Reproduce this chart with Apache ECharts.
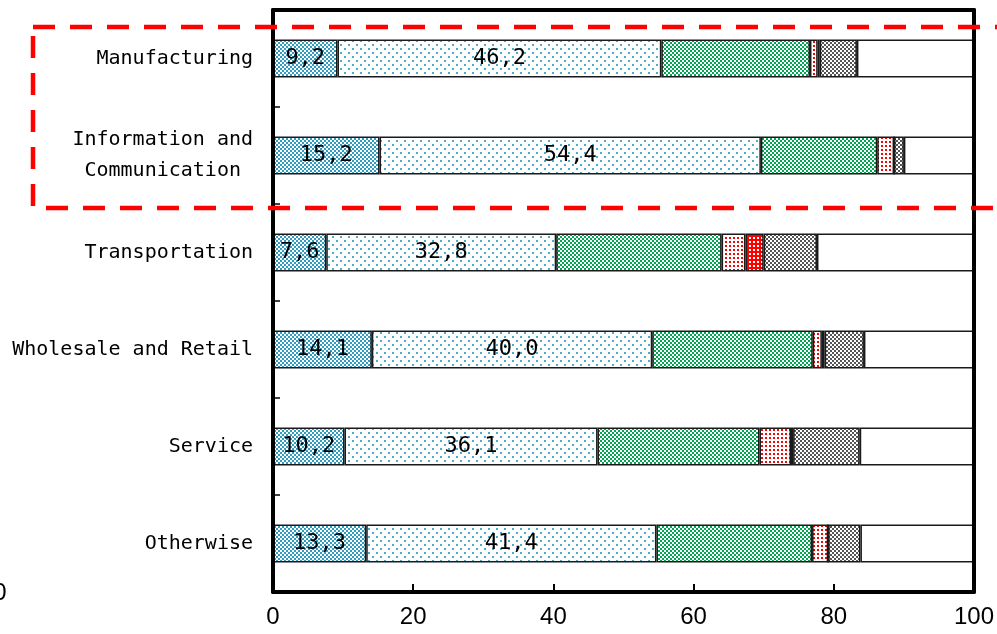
<!DOCTYPE html>
<html>
<head>
<meta charset="utf-8">
<script src="https://cdn.jsdelivr.net/npm/echarts@6/dist/echarts.min.js"></script>
<style>
  html, body { margin: 0; padding: 0; background: #fff; }
  #chart { width: 997px; height: 634px; }
</style>
</head>
<body>
<div id="chart"></div>
<script>
// Industry categories (top to bottom)
var categories = ['Manufacturing', 'Information and\nCommunication ', 'Transportation', 'Wholesale and Retail', 'Service', 'Otherwise'];

// Shares (%) per segment, left to right
var shareA = [9.2, 15.2, 7.6, 14.1, 10.2, 13.3];
var shareB = [46.2, 54.4, 32.8, 40.0, 36.1, 41.4];
var shareC = [21.2, 16.6, 23.6, 22.9, 23.1, 22.2];
var shareD = [1.1, 2.4, 3.4, 1.3, 4.5, 2.3];
var shareE = [0.3, 0, 2.6, 0.4, 0.3, 0];
var shareF = [5.3, 1.4, 7.6, 5.6, 9.5, 4.6];
var shareG = [16.7, 10.0, 22.4, 15.7, 16.3, 16.2];

var xTicks = [0, 20, 40, 60, 80, 100];

// Small tiled fill patterns
function tile(size, bg, fg, squares) {
  var c = document.createElement('canvas');
  c.width = size; c.height = size;
  var g = c.getContext('2d');
  g.fillStyle = bg; g.fillRect(0, 0, size, size);
  g.fillStyle = fg;
  squares.forEach(function (s) { g.fillRect(s[0], s[1], s[2], s[3]); });
  return { image: c, repeat: 'repeat' };
}
var checker = [[0, 0, 2, 2], [2, 2, 2, 2]];
var fills = [
  tile(4, '#ffffff', '#2f9cc0', checker),
  tile(8, '#ffffff', '#4aaecb', [[0, 0, 2, 2], [4, 4, 2, 2]]),
  tile(4, '#ffffff', '#00a651', checker),
  tile(4, '#ffffff', '#ff0000', [[1, 1, 2, 2]]),
  tile(4, '#ff0000', '#ffffff', [[1, 1, 2, 2]]),
  tile(4, '#ffffff', '#555555', checker),
  '#ffffff'
];
var allShares = [shareA, shareB, shareC, shareD, shareE, shareF, shareG];

var mono = 'DejaVu Sans Mono';

var series = allShares.map(function (vals, i) {
  return {
    type: 'bar',
    stack: 'total',
    barWidth: 38,
    data: vals,
    itemStyle: { color: fills[i], borderColor: '#1a1a1a', borderWidth: 1.5 },
    label: {
      show: i < 2,
      position: 'inside',
      color: '#000',
      fontFamily: mono,
      fontSize: 22,
      formatter: function (p) { return p.value.toFixed(1).replace('.', ','); }
    },
    emphasis: { disabled: true },
    animation: false
  };
});

var chart = echarts.init(document.getElementById('chart'), null, { renderer: 'canvas' });
chart.setOption({
  animation: false,
  grid: { left: 273, right: 23, top: 10, bottom: 42, containLabel: false },
  xAxis: [{
    type: 'value',
    min: xTicks[0], max: xTicks[xTicks.length - 1], interval: 20,
    position: 'bottom',
    axisLine: { show: true, onZero: false, lineStyle: { color: '#000', width: 4 } },
    axisTick: { show: true, inside: true, length: 8, lineStyle: { color: '#000', width: 2 } },
    axisLabel: { color: '#000', fontFamily: 'Liberation Sans', fontSize: 24, margin: 13 },
    splitLine: { show: false },
    z: 10
  }, {
    type: 'value', min: 0, max: 100, position: 'top',
    axisLine: { show: true, onZero: false, lineStyle: { color: '#000', width: 4 } },
    axisTick: { show: false }, axisLabel: { show: false }, splitLine: { show: false },
    z: 10
  }],
  yAxis: [{
    type: 'category',
    inverse: true,
    data: categories,
    axisLine: { show: true, onZero: false, lineStyle: { color: '#000', width: 4 } },
    axisTick: { show: true, inside: true, length: 7, lineStyle: { color: '#000', width: 1.5 } },
    axisLabel: { color: '#000', fontFamily: mono, fontSize: 20, lineHeight: 31, margin: 20, align: 'right' },
    z: 10
  }, {
    type: 'value', min: 0, max: 1, position: 'right',
    axisLine: { show: true, onZero: false, lineStyle: { color: '#000', width: 4 } },
    axisTick: { show: false }, axisLabel: { show: false }, splitLine: { show: false },
    z: 10
  }],
  series: series,
  graphic: [{
    type: 'rect',
    z: 100,
    shape: { x: 33, y: 27, width: 1000, height: 181 },
    style: { fill: 'none', stroke: '#ff0000', lineWidth: 4.5, lineDash: [22, 15] }
  }, {
    type: 'text',
    z: 100,
    x: 0, y: 593,
    style: { text: '0', fill: '#000', font: '24px Liberation Sans', align: 'center', verticalAlign: 'middle' }
  }]
});
</script>
</body>
</html>
